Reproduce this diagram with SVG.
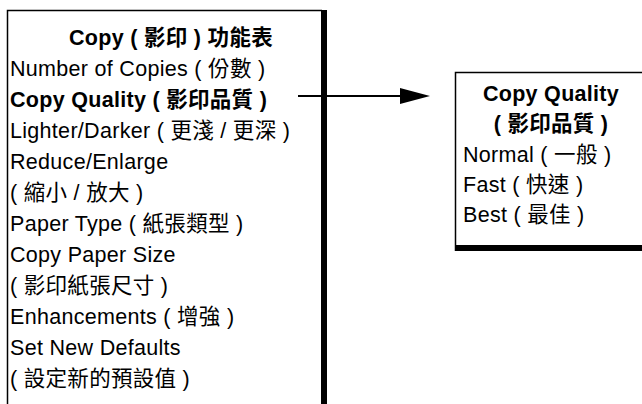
<svg xmlns="http://www.w3.org/2000/svg" width="642" height="404" viewBox="0 0 642 404">
<style>
text{font-family:"Liberation Sans","Noto Sans CJK TC",sans-serif;font-size:21.5px;letter-spacing:0.3px;fill:#000}
.b{font-weight:bold}
.m{text-anchor:middle}
.thin{fill:none;stroke:#000;stroke-width:1.5}
</style>
<rect width="642" height="404" fill="#fff"/>
<g id="copy-menu">
<path class="thin" d="M7.5,404 V10.5 H322"/>
<rect x="321" y="10" width="6" height="394" fill="#000"/>
<text class="b m" x="171" y="45">Copy ( 影印 ) 功能表</text>
<text x="10" y="76">Number of Copies ( 份數 )</text>
<text class="b" x="10" y="107">Copy Quality ( 影印品質 )</text>
<text x="10" y="138">Lighter/Darker ( 更淺 / 更深 )</text>
<text x="10" y="169">Reduce/Enlarge</text>
<text x="10" y="200">( 縮小 / 放大 )</text>
<text x="10" y="231">Paper Type ( 紙張類型 )</text>
<text x="10" y="262">Copy Paper Size</text>
<text x="10" y="293">( 影印紙張尺寸 )</text>
<text x="10" y="324">Enhancements ( 增強 )</text>
<text x="10" y="355">Set New Defaults</text>
<text x="10" y="386">( 設定新的預設值 )</text>
</g>
<g id="connectors">
<line x1="298" y1="96" x2="402" y2="96" stroke="#000" stroke-width="2"/>
<polygon points="400,88 430,96 400,104" fill="#000"/>
</g>
<g id="copy-quality">
<path class="thin" d="M455.5,251 V72.5 H645"/>
<rect x="455" y="245" width="190" height="6" fill="#000"/>
<text class="b m" x="551" y="101">Copy Quality</text>
<text class="b m" x="551" y="131">( 影印品質 )</text>
<text x="463" y="162">Normal ( 一般 )</text>
<text x="463" y="192">Fast ( 快速 )</text>
<text x="463" y="222">Best ( 最佳 )</text>
</g>
</svg>
